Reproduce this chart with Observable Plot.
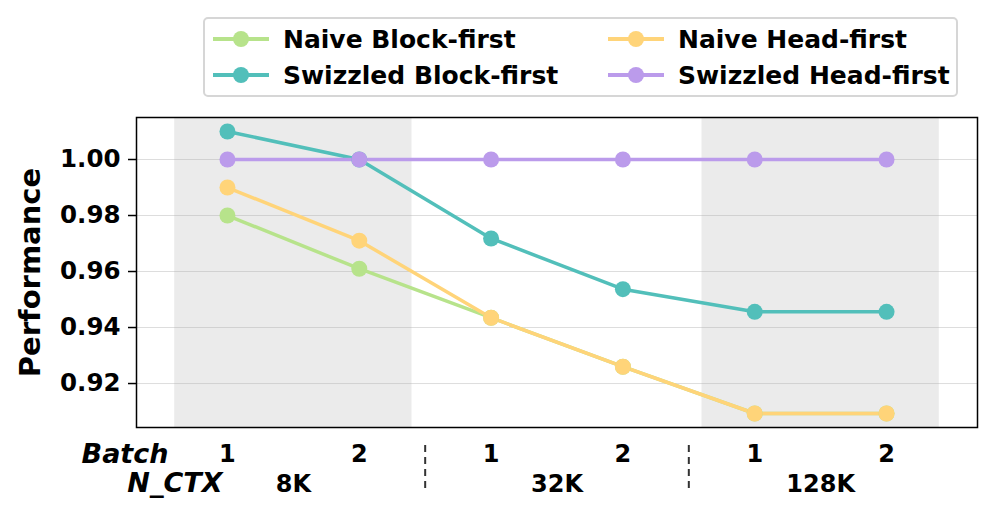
<!DOCTYPE html>
<html><head><meta charset="utf-8">
<script src="https://cdn.jsdelivr.net/npm/d3@7"></script>
<script src="https://cdn.jsdelivr.net/npm/@observablehq/plot@0.6"></script>
<style>
body{margin:0;background:#fff;font-family:"DejaVu Sans",sans-serif;}
#wrap{position:relative;width:996px;height:519px;}
#legend{position:absolute;left:203px;top:17px;width:751px;height:76px;border:2px solid #d6d6d6;border-radius:5px;background:#fff;box-sizing:content-box;}
.item{position:absolute;display:flex;align-items:center;font-weight:bold;font-size:25px;white-space:nowrap;}
.item svg{margin-right:12px;}
</style></head>
<body><div id="wrap"><div id="legend"></div></div>
<script>
const positions = [0, 1, 2, 3, 4, 5];
const batchLabels = ["1", "2", "1", "2", "1", "2"];
const ctxLabels = ["8K", "32K", "128K"];
const seriesNames = ["Naive Block-first", "Naive Head-first", "Swizzled Block-first", "Swizzled Head-first"];
const colors = ["#b7e38b", "#ffd479", "#52bfba", "#bb9beb"];
const naiveBlock = [0.980, 0.961, 0.9435, 0.926, 0.9093, 0.9093];
const naiveHead = [0.990, 0.971, 0.9435, 0.926, 0.9093, 0.9093];
const swizBlock = [1.010, 1.000, 0.9718, 0.9537, 0.9456, 0.9456];
const swizHead = [1.000, 1.000, 1.000, 1.000, 1.000, 1.000];
const yTicks = [0.92, 0.94, 0.96, 0.98, 1.00];

const seriesValues = [naiveBlock, naiveHead, swizBlock, swizHead];
const data = seriesNames.flatMap((s, i) => positions.map((p, j) => ({series: s, x: p, y: seriesValues[i][j], color: colors[i]})));
const groups = ctxLabels.map((c, g) => ({label: c, center: (positions[2*g] + positions[2*g+1]) / 2, x1: positions[2*g] - 0.4, x2: positions[2*g+1] + 0.4}));
const shaded = [groups[0], groups[2]];
const seps = [groups[0].x2 + 0.1, groups[1].x2 + 0.1];

const font = "DejaVu Sans";
const chart = Plot.plot({
  width: 996, height: 519,
  marginTop: 117, marginBottom: 92, marginLeft: 136, marginRight: 19,
  style: {fontFamily: font, fontWeight: "bold", background: "white"},
  x: {domain: [-0.69, 5.69]},
  y: {domain: [0.9043, 1.015]},
  marks: [
    Plot.rect(shaded, {x1: "x1", x2: "x2", fill: "#ebebeb"}),
    Plot.gridY(yTicks, {stroke: "#aaa", strokeOpacity: 0.4, strokeWidth: 1}),
    Plot.line(data, {x: "x", y: "y", z: "series", stroke: "color", strokeWidth: 3.5}),
    Plot.dot(data, {x: "x", y: "y", fill: "color", r: 8}),
    Plot.frame({stroke: "black", strokeWidth: 1.5}),
    Plot.axisY(yTicks, {tickFormat: d3.format(".2f"), tickSize: 8, tickPadding: 8, fontSize: 24.5, fontWeight: "bold", label: null, strokeWidth: 1.5}),
    Plot.axisX(positions, {tickFormat: i => batchLabels[i], tickSize: 0, tickPadding: 17, fontSize: 24, fontWeight: "bold", label: null}),
    Plot.text(groups, {x: "center", text: "label", frameAnchor: "bottom", dy: 64, fontSize: 24, fontWeight: "bold"}),
    Plot.ruleX(seps, {insetTop: 328, insetBottom: -64, stroke: "#333", strokeWidth: 2, strokeDasharray: "7,5"}),
    Plot.text(["Batch"], {frameAnchor: "bottom-left", dx: 32, dy: 35, textAnchor: "end", fontSize: 27, fontWeight: "bold", fontStyle: "italic"}),
    Plot.text(["N_CTX"], {frameAnchor: "bottom-left", dx: 86, dy: 64, textAnchor: "end", fontSize: 27, fontWeight: "bold", fontStyle: "italic"}),
    Plot.text(["Performance"], {frameAnchor: "left", dx: -106, rotate: -90, textAnchor: "middle", fontSize: 29, fontWeight: "bold"})
  ]
});
document.getElementById("wrap").appendChild(chart);

// legend (two columns, matplotlib-style order)
const legend = document.getElementById("legend");
const legendOrder = [[0, 0, 0], [2, 0, 1], [1, 1, 0], [3, 1, 1]];
legendOrder.forEach(([si, col, row]) => {
  const div = document.createElement("div");
  div.className = "item";
  div.style.left = (col === 0 ? 6 : 401) + "px";
  div.style.top = (row === 0 ? 5 : 41) + "px";
  div.innerHTML = `<svg width="60" height="30"><line x1="2" x2="58" y1="15" y2="15" stroke="${colors[si]}" stroke-width="4"/><circle cx="30" cy="15" r="8" fill="${colors[si]}"/></svg><span>${seriesNames[si]}</span>`;
  legend.appendChild(div);
});
</script></body></html>
